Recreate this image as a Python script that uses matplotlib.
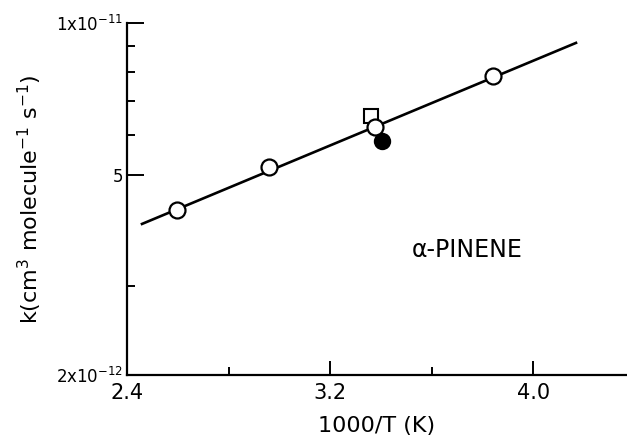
import matplotlib
matplotlib.use('Agg')
import matplotlib.pyplot as plt
from matplotlib.ticker import FixedLocator, NullFormatter

# data (x = 1000/T, k in cm3 molecule-1 s-1)
open_x = [2.597, 2.96, 3.377, 3.842]
open_k = [4.26e-12, 5.18e-12, 6.22e-12, 7.85e-12]
square_x = [3.362]
square_k = [6.53e-12]
filled_x = [3.403]
filled_k = [5.83e-12]
fit_x = [2.459, 4.169]
fit_k = [3.99e-12, 9.13e-12]

major_x = [2.4, 3.2, 4.0]
minor_x = [2.8, 3.6]
major_k = [2e-12, 5e-12, 1e-11]
major_k_labels = ['2x10$^{-12}$', '5', '1x10$^{-11}$']
minor_k = [3e-12, 6e-12, 7e-12, 8e-12, 9e-12]

plt.rcParams['font.family'] = ['DejaVu Sans']
plt.rcParams['mathtext.default'] = 'regular'

fig = plt.figure(figsize=(6.27, 4.37), dpi=100)
ax = fig.add_axes([0.2026, 0.1419, 0.7974, 0.8055])

ax.plot(fit_x, fit_k, color='black', lw=1.9, zorder=2)
ax.plot(square_x, square_k, 's', ms=10.5, mfc='white', mec='black', mew=1.5, zorder=3)
ax.plot(filled_x, filled_k, 'o', ms=11, mfc='black', mec='black', mew=1.5, zorder=4)
ax.plot(open_x, open_k, 'o', ms=11.5, mfc='white', mec='black', mew=1.6, zorder=5)

ax.set_yscale('log')
ax.set_xlim(2.4, 4.37)
ax.set_ylim(2e-12, 1e-11)

ax.xaxis.set_major_locator(FixedLocator(major_x))
ax.xaxis.set_minor_locator(FixedLocator(minor_x))
ax.set_xticklabels(['2.4', '3.2', '4.0'])
ax.yaxis.set_major_locator(FixedLocator(major_k))
ax.yaxis.set_minor_locator(FixedLocator(minor_k))
ax.set_yticklabels(major_k_labels)
ax.yaxis.set_minor_formatter(NullFormatter())

for s in ['top', 'right']:
    ax.spines[s].set_visible(False)
for s in ['left', 'bottom']:
    ax.spines[s].set_linewidth(1.6)

ax.tick_params(axis='x', which='major', direction='in', length=10, width=1.4, labelsize=15, pad=6)
ax.tick_params(axis='x', which='minor', direction='in', length=6, width=1.4)
ax.tick_params(axis='y', which='major', direction='in', length=12, width=1.4, labelsize=12, pad=3)
ax.tick_params(axis='y', which='minor', direction='in', length=6, width=1.4)

ax.set_xlabel('1000/T (K)', fontsize=16, labelpad=9)
ax.set_ylabel('k(cm$^3$ molecule$^{-1}$ s$^{-1}$)', fontsize=16, labelpad=8)

ax.text(3.523, 3.54e-12, '\u03b1-PINENE', fontsize=17, ha='left', va='center')

fig.savefig('out.png', dpi=100)
